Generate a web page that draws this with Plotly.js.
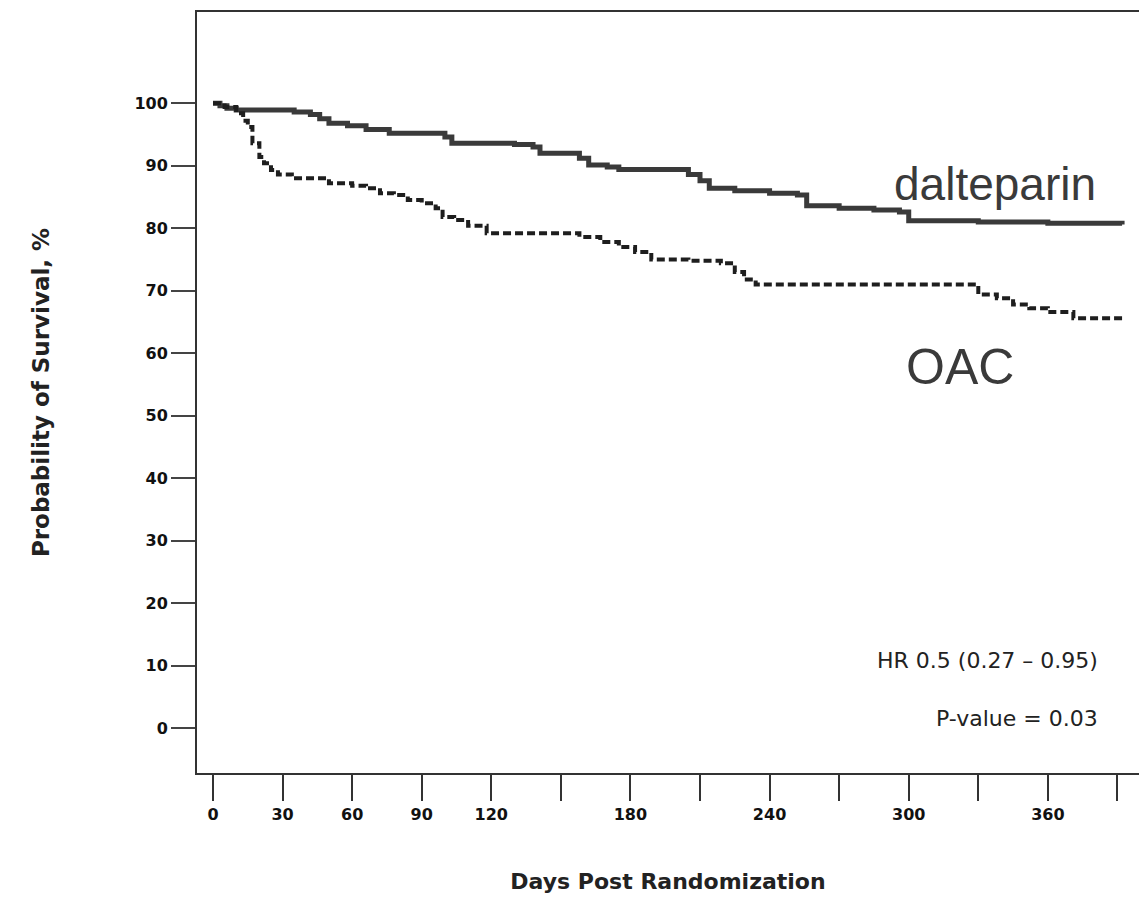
<!DOCTYPE html>
<html>
<head>
<meta charset="utf-8">
<script src="https://cdn.plot.ly/plotly-3.0.1.min.js"></script>
<style>html,body{margin:0;padding:0;background:#fff;overflow:hidden}</style>
</head>
<body>
<div id="chart" style="width:1139px;height:917px"></div>
<script>
// ---- data ----
const xTickDays = [0, 30, 60, 90, 120, 150, 180, 210, 240, 270, 300, 330, 360, 390];
const xTickLabels = ['0', '30', '60', '90', '120', '', '180', '', '240', '', '300', '', '360', ''];
const yTickVals = [0, 10, 20, 30, 40, 50, 60, 70, 80, 90, 100];

const daltDays = [0, 3, 6, 10, 20, 35, 42, 46, 50, 58, 66, 76, 90, 100, 103, 115, 130, 138, 141, 150, 158, 162, 170, 175, 185, 195, 205, 210, 214, 225, 240, 252, 256, 270, 285, 296, 300, 330, 360, 392];
const daltSurv = [100, 99.6, 99.2, 98.9, 98.9, 98.6, 98.2, 97.5, 96.8, 96.4, 95.8, 95.2, 95.2, 94.6, 93.6, 93.6, 93.4, 93.0, 92.0, 92.0, 91.2, 90.1, 89.8, 89.4, 89.4, 89.4, 88.6, 87.6, 86.4, 86.0, 85.6, 85.3, 83.6, 83.2, 82.9, 82.6, 81.2, 81.0, 80.8, 80.6];

const oacDays = [0, 5, 10, 13, 15, 17, 20, 22, 25, 28, 34, 45, 50, 60, 66, 72, 78, 84, 90, 96, 99, 104, 110, 118, 140, 158, 167, 175, 182, 189, 205, 219, 225, 229, 234, 290, 322, 330, 338, 345, 352, 360, 371, 392];
const oacSurv = [100, 99.4, 98.4, 97.2, 96.2, 93.6, 91.4, 90.4, 89.3, 88.6, 88.0, 88.0, 87.2, 86.8, 86.4, 85.6, 85.3, 84.5, 84.0, 83.2, 81.8, 81.3, 80.4, 79.2, 79.2, 78.6, 77.8, 77.0, 76.2, 75.0, 74.8, 74.4, 73.0, 71.8, 71.0, 71.0, 71.0, 69.4, 68.8, 67.8, 67.2, 66.6, 65.6, 65.4];

const seriesNames = ['dalteparin', 'OAC'];
const statsText = ['HR 0.5 (0.27 \u2013 0.95)', 'P-value = 0.03'];

// ---- chart ----
const boldFam = 'DejaVu Sans, Arial, sans-serif';
const traces = [
  {x: daltDays, y: daltSurv, type: 'scatter', mode: 'lines', name: seriesNames[0],
   line: {shape: 'hv', color: '#3a3a3a', width: 5}},
  {x: oacDays, y: oacSurv, type: 'scatter', mode: 'lines', name: seriesNames[1],
   line: {shape: 'hv', color: '#1e1e1e', width: 4, dash: '8px,4px'}}
];

const tickFont = {family: boldFam, size: 16, color: '#111', weight: 'bold'};

const layout = {
  width: 1139, height: 917,
  margin: {l: 197, r: 0, t: 12, b: 144},
  paper_bgcolor: '#fff', plot_bgcolor: '#fff',
  showlegend: false,
  font: {family: 'Liberation Sans, Arial, sans-serif', color: '#222'},
  xaxis: {
    range: [-6.9, 399.3], tickmode: 'array', tickvals: xTickDays, ticktext: xTickLabels,
    ticks: 'outside', ticklen: 26, tickwidth: 2, tickcolor: '#333',
    showline: true, linecolor: '#333', linewidth: 2, mirror: true,
    showgrid: false, zeroline: false, tickfont: tickFont,
    title: {text: 'Days Post Randomization', font: {family: boldFam, size: 22, color: '#222', weight: 'bold'}, standoff: 50}
  },
  yaxis: {
    range: [-7.2, 114.6], tickmode: 'array', tickvals: yTickVals,
    ticks: 'outside', ticklen: 24, tickwidth: 2, tickcolor: '#444',
    showline: true, linecolor: '#333', linewidth: 2,
    showgrid: false, zeroline: false, tickfont: tickFont,
    title: {text: 'Probability of Survival, %', font: {family: boldFam, size: 23, color: '#222', weight: 'bold'}, standoff: 78}
  },
  annotations: [
    {x: 337, y: 87, xref: 'x', yref: 'y', text: seriesNames[0], showarrow: false,
     font: {size: 46, color: '#3a3a3a', family: 'Liberation Sans, Arial, sans-serif'}},
    {x: 322, y: 57.8, xref: 'x', yref: 'y', text: seriesNames[1], showarrow: false,
     font: {size: 50, color: '#3a3a3a', family: 'Liberation Sans, Arial, sans-serif'}},
    {x: 382.5, y: 10.8, xref: 'x', yref: 'y', xanchor: 'right', text: statsText[0], showarrow: false,
     font: {size: 22, color: '#222', family: 'DejaVu Sans, sans-serif'}},
    {x: 382.5, y: 1.6, xref: 'x', yref: 'y', xanchor: 'right', text: statsText[1], showarrow: false,
     font: {size: 22, color: '#222', family: 'DejaVu Sans, sans-serif'}}
  ]
};

Plotly.newPlot('chart', traces, layout, {displayModeBar: false, staticPlot: true});
</script>
</body>
</html>
